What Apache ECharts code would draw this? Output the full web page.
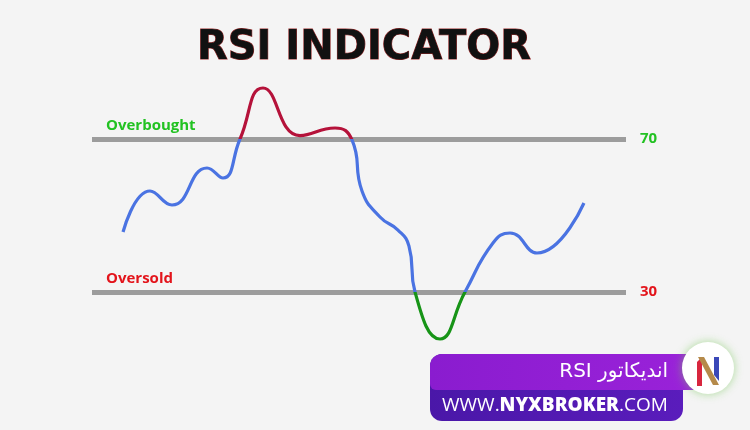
<!DOCTYPE html>
<html>
<head>
<meta charset="utf-8">
<script src="https://cdn.jsdelivr.net/npm/echarts@6/dist/echarts.min.js"></script>
<style>html,body{margin:0;padding:0;background:#f4f4f4;}#c{width:750px;height:430px;}</style>
</head>
<body>
<div id="c"></div>
<script>
// time positions (arbitrary 0-100 scale) and RSI values
const times = [5.81, 10.86, 14.98, 21.54, 24.53, 27.72, 32.02, 38.95, 45.51, 48.69, 50.56, 53.93, 57.30, 59.36, 60.49, 65.17, 69.85, 75.09, 78.28, 83.33, 92.13];
const rsi   = [45.69, 56.41, 52.75, 62.42, 59.80, 70.00, 83.33, 70.90, 72.88, 69.74, 56.40, 49.61, 46.20, 42.00, 30.00, 17.71, 30.00, 42.81, 45.42, 40.20, 53.27];
const levels = [70, 30];
const levelNames = ['Overbought', 'Oversold'];
const levelLabels = ['70', '30'];
const titleText = 'RSI INDICATOR';
const bannerTitle = 'اندیکاتور RSI';
const bannerUrl = ['WWW.', 'NYXBROKER', '.COM'];

const colors = { up: '#b5123a', mid: '#4a73e2', down: '#179417', lvl: '#9c9c9c', obText: '#22c222', osText: '#e3141b' };
const levelColors = [colors.obText, colors.osText];

const chart = echarts.init(document.getElementById('c'));
const data = times.map((t, i) => [t, rsi[i]]);

const mlData = [];
levels.forEach((lv, i) => {
  mlData.push({ yAxis: lv, label: { show: true, position: 'end', formatter: levelLabels[i], color: levelColors[i], fontSize: 15, fontWeight: 'bold', fontFamily: 'Open Sans', distance: 14 } });
  mlData.push({ yAxis: lv, label: { show: true, position: 'insideStartTop', formatter: levelNames[i], color: levelColors[i], fontSize: 15, fontWeight: 'bold', fontFamily: 'Open Sans', distance: 6, offset: [8, 0] } });
});

chart.setOption({
  backgroundColor: '#f4f4f4',
  animation: false,
  grid: { left: 92, right: 124, top: 24.25, bottom: 23.25 },
  xAxis: { type: 'value', min: 0, max: 100, show: false },
  yAxis: { type: 'value', min: 0, max: 100, show: false },
  visualMap: {
    show: false, type: 'piecewise', dimension: 1, seriesIndex: 0,
    pieces: [
      { gt: 70, color: colors.up },
      { gte: 30, lte: 70, color: colors.mid },
      { lt: 30, color: colors.down }
    ]
  },
  series: [{
    type: 'line', data: data, smooth: 0.5, showSymbol: false,
    lineStyle: { width: 3.2 }, z: 3,
    markLine: {
      silent: true, symbol: 'none', animation: false,
      lineStyle: { color: colors.lvl, width: 5, type: 'solid' },
      data: mlData, z: 2
    }
  }],
  graphic: [
    { type: 'text', x: 364, y: 49, z: 10,
      style: { text: titleText, fill: '#111', stroke: '#9b2a2a', lineWidth: 1, font: 'bold 40px "DejaVu Sans"', align: 'center', verticalAlign: 'middle' } },
    { type: 'rect', z: 10, shape: { x: 430, y: 354, width: 253, height: 67, r: 12 },
      style: { fill: new echarts.graphic.LinearGradient(0, 0, 1, 0, [{ offset: 0, color: '#4a17a8' }, { offset: 1, color: '#5a1cbc' }]) } },
    { type: 'rect', z: 11, shape: { x: 430, y: 354, width: 272, height: 36, r: [12, 0, 0, 6] },
      style: { fill: new echarts.graphic.LinearGradient(0, 0, 1, 0, [{ offset: 0, color: '#8a1ccf' }, { offset: 1, color: '#9a22d9' }]) } },
    { type: 'text', z: 12, x: 668, y: 372,
      style: { text: '\u202B' + bannerTitle + '\u202C', fill: '#ffffff', font: '500 20px "DejaVu Sans"', align: 'right', verticalAlign: 'middle' } },
    { type: 'text', z: 12, x: 442, y: 406,
      style: { text: '{a|' + bannerUrl[0] + '}{b|' + bannerUrl[1] + '}{a|' + bannerUrl[2] + '}', fill: '#fff', align: 'left', verticalAlign: 'middle',
        rich: { a: { fill: '#fff', font: '400 19px "Open Sans"' }, b: { fill: '#fff', font: '800 19px "Open Sans"' } } } },
    { type: 'circle', z: 13, shape: { cx: 708, cy: 368, r: 26 },
      style: { fill: '#ffffff', shadowBlur: 10, shadowColor: 'rgba(120,200,90,0.6)' } },
    { type: 'polygon', z: 14, shape: { points: [[697, 362], [702, 357], [702, 386], [697, 386]] }, style: { fill: '#d8263e' } },
    { type: 'polygon', z: 15, shape: { points: [[698, 357], [704, 357], [719, 385], [713, 385]] }, style: { fill: '#b58a4a' } },
    { type: 'polygon', z: 14, shape: { points: [[714, 357], [719, 357], [719, 381], [714, 375]] }, style: { fill: '#3a48b8' } }
  ]
});
</script>
</body>
</html>
